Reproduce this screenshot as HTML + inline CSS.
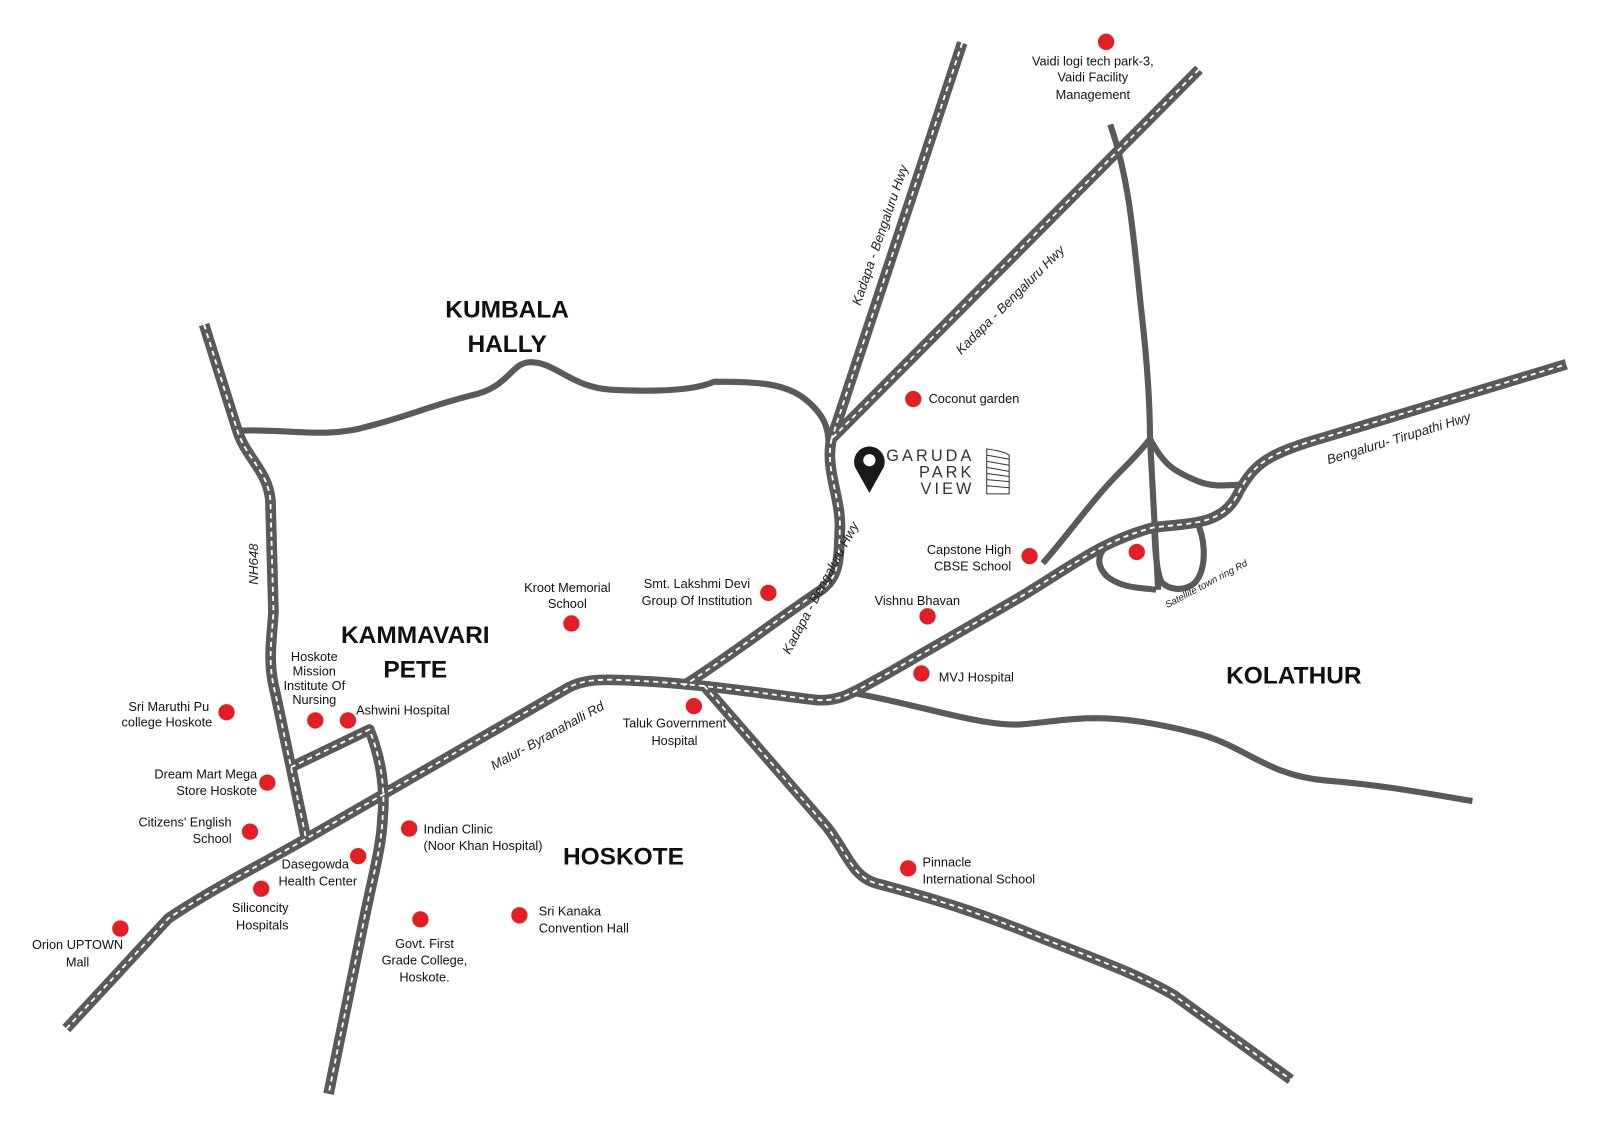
<!DOCTYPE html>
<html><head><meta charset="utf-8"><style>
html,body{margin:0;padding:0;background:#fff}
svg{display:block}
text{font-family:"Liberation Sans",sans-serif}
.l{font-size:12.5px;fill:#111}
.r{font-size:13px;fill:#222;font-style:italic}
.b{font-size:24px;font-weight:bold;fill:#111}
</style></head><body>
<svg width="1600" height="1130" viewBox="0 0 1600 1130" xmlns="http://www.w3.org/2000/svg">
<g transform="scale(1.0204)">
<g fill="none" stroke-linejoin="round" stroke-linecap="butt">
<g stroke="#5a5a5a" stroke-width="6">
<path d="M235,422 C280,420 320,430 360,418 C400,408 420,398 460,388 C500,380 500,355 520,355 C545,355 560,380 600,382 C640,384 680,383 700,374 C740,374 770,375 790,392 C812,410 812,425 812,440"/>
<path d="M830,678 C900,690 960,712 1000,710 C1050,706 1080,695 1170,718 C1220,730 1240,760 1300,765 C1360,770 1400,778 1443,785"/>
<path d="M1088,122 C1105,170 1110,220 1118,300 C1125,360 1127,400 1127,430 L1135,578"/>
<path d="M1022,552 C1050,520 1070,490 1100,460 C1120,440 1127,430 1127,430 C1140,455 1150,462 1175,472 C1190,478 1205,475 1218,475"/>
<path d="M1100,525 C1078,535 1070,550 1085,565 C1100,577 1120,576 1133,578"/>
<path d="M1175,516 C1182,535 1182,560 1170,572 C1160,580 1145,578 1138,570 C1132,555 1132,530 1131,516"/>
</g>
<g>
<path id="h1" d="M943,42 L815,430"/>
<path id="h2" d="M1175,68 L815,430"/>
<path id="h3" d="M815,430 C808,460 825,490 823,520 C822,550 822,565 805,578 C760,608 720,640 670,672"/>
<path id="h4" d="M65,1008 L165,900 C210,870 260,845 300,822 L555,675 C575,663 600,666 640,668 C700,672 750,680 800,686 C825,688 840,676 870,660 L1000,585 C1050,555 1080,530 1130,517 C1170,512 1200,515 1215,480 C1230,455 1240,445 1300,428 L1535,357"/>
<path id="h5" d="M690,672 L810,810 C830,835 835,860 860,866 C920,882 960,895 1010,915 C1060,935 1110,952 1150,975 L1265,1058"/>
<path id="h6" d="M200,318 L232,420 C240,448 262,460 265,490 L268,600 C266,630 262,650 270,680 L300,822"/>
<path id="h7" d="M285,752 L362,715 C372,740 378,770 375,800 C374,830 365,860 355,910 L322,1072"/>
</g>
<g stroke="#5a5a5a" stroke-width="10.5">
<use href="#h1"/><use href="#h2"/><use href="#h3"/><use href="#h4"/><use href="#h5"/><use href="#h6"/><use href="#h7"/>
</g>
<g stroke="#fff" stroke-width="1.8" stroke-dasharray="5 4">
<use href="#h1"/><use href="#h2"/><use href="#h3"/><use href="#h4"/><use href="#h5"/><use href="#h6"/><use href="#h7"/>
</g>
</g>

<g fill="#e31e24">
<circle cx="1084" cy="41" r="8"/><circle cx="895" cy="391" r="8"/><circle cx="1009" cy="545" r="8"/>
<circle cx="1114" cy="541" r="8"/><circle cx="909" cy="604" r="8"/><circle cx="903" cy="660" r="8"/>
<circle cx="753" cy="581" r="8"/><circle cx="560" cy="611" r="8"/><circle cx="680" cy="692" r="8"/>
<circle cx="222" cy="698" r="8"/><circle cx="309" cy="706" r="8"/><circle cx="341" cy="706" r="8"/>
<circle cx="262" cy="767" r="8"/><circle cx="245" cy="815" r="8"/><circle cx="401" cy="812" r="8"/>
<circle cx="351" cy="839" r="8"/><circle cx="256" cy="871" r="8"/><circle cx="118" cy="910" r="8"/>
<circle cx="412" cy="901" r="8"/><circle cx="509" cy="897" r="8"/><circle cx="890" cy="851" r="8"/>
</g>

<g class="l">
<text x="1071" y="64" text-anchor="middle">Vaidi logi tech park-3,</text>
<text x="1071" y="80" text-anchor="middle">Vaidi Facility</text>
<text x="1071" y="97" text-anchor="middle">Management</text>
<text x="910" y="395">Coconut garden</text>
<text x="991" y="543" text-anchor="end">Capstone High</text>
<text x="991" y="559" text-anchor="end">CBSE School</text>
<text x="899" y="593" text-anchor="middle">Vishnu Bhavan</text>
<text x="920" y="668">MVJ Hospital</text>
<text x="683" y="576" text-anchor="middle">Smt. Lakshmi Devi</text>
<text x="683" y="593" text-anchor="middle">Group Of Institution</text>
<text x="556" y="580" text-anchor="middle">Kroot Memorial</text>
<text x="556" y="596" text-anchor="middle">School</text>
<text x="661" y="713" text-anchor="middle">Taluk Government</text>
<text x="661" y="730" text-anchor="middle">Hospital</text>
<text x="308" y="648" text-anchor="middle">Hoskote</text>
<text x="308" y="662" text-anchor="middle">Mission</text>
<text x="308" y="676" text-anchor="middle">Institute Of</text>
<text x="308" y="690" text-anchor="middle">Nursing</text>
<text x="349" y="700">Ashwini Hospital</text>
<text x="205" y="697" text-anchor="end">Sri Maruthi Pu</text>
<text x="208" y="712" text-anchor="end">college Hoskote</text>
<text x="252" y="763" text-anchor="end">Dream Mart Mega</text>
<text x="252" y="779" text-anchor="end">Store Hoskote</text>
<text x="227" y="810" text-anchor="end">Citizens' English</text>
<text x="227" y="826" text-anchor="end">School</text>
<text x="415" y="817">Indian Clinic</text>
<text x="415" y="833">(Noor Khan Hospital)</text>
<text x="342" y="851" text-anchor="end">Dasegowda</text>
<text x="350" y="868" text-anchor="end">Health Center</text>
<text x="255" y="894" text-anchor="middle">Siliconcity</text>
<text x="257" y="911" text-anchor="middle">Hospitals</text>
<text x="76" y="930" text-anchor="middle">Orion UPTOWN</text>
<text x="76" y="947" text-anchor="middle">Mall</text>
<text x="416" y="929" text-anchor="middle">Govt. First</text>
<text x="416" y="945" text-anchor="middle">Grade College,</text>
<text x="416" y="962" text-anchor="middle">Hoskote.</text>
<text x="528" y="897">Sri Kanaka</text>
<text x="528" y="914">Convention Hall</text>
<text x="904" y="849">Pinnacle</text>
<text x="904" y="866">International School</text>
</g>

<g class="b">
<text x="497" y="311" text-anchor="middle">KUMBALA</text>
<text x="497" y="345" text-anchor="middle">HALLY</text>
<text x="407" y="630" text-anchor="middle">KAMMAVARI</text>
<text x="407" y="664" text-anchor="middle">PETE</text>
<text x="611" y="847" text-anchor="middle">HOSKOTE</text>
<text x="1268" y="670" text-anchor="middle">KOLATHUR</text>
</g>

<g class="r">
<text transform="translate(843,300) rotate(-71)">Kadapa - Bengaluru Hwy</text>
<text transform="translate(942,348) rotate(-45)">Kadapa - Bengaluru Hwy</text>
<text transform="translate(774,642) rotate(-62)">Kadapa - Bengaluru Hwy</text>
<text transform="translate(484,755) rotate(-29)">Malur- Byranahalli Rd</text>
<text transform="translate(1302,455) rotate(-17)">Bengaluru- Tirupathi Hwy</text>
<text transform="translate(253,573) rotate(-90)">NH648</text>
<text transform="translate(1144,596) rotate(-28)" style="font-size:9.5px">Satellite town ring Rd</text>
</g>

<g>
<path d="M852,483 L838,458 A15,15 0 1 1 866,458 Z" fill="#1a1a1a"/>
<circle cx="852" cy="451" r="6" fill="#fff"/>
<g font-size="16" fill="#333" letter-spacing="3" style="font-family:'Liberation Sans',sans-serif">
<text x="955" y="452" text-anchor="end">GARUDA</text>
<text x="955" y="468" text-anchor="end">PARK</text>
<text x="955" y="484" text-anchor="end">VIEW</text>
</g>
<g fill="none" stroke="#333" stroke-width="1">
<path d="M967,440 C975,441 985,443 989,446 L989,484 L967,484 Z"/>
<path d="M967,446 L989,450 M967,452 L989,456 M967,458 L989,462 M967,464 L989,467 M967,470 L989,472 M967,476 L989,478"/>
</g>
</g>
</g>
</svg>
</body></html>
